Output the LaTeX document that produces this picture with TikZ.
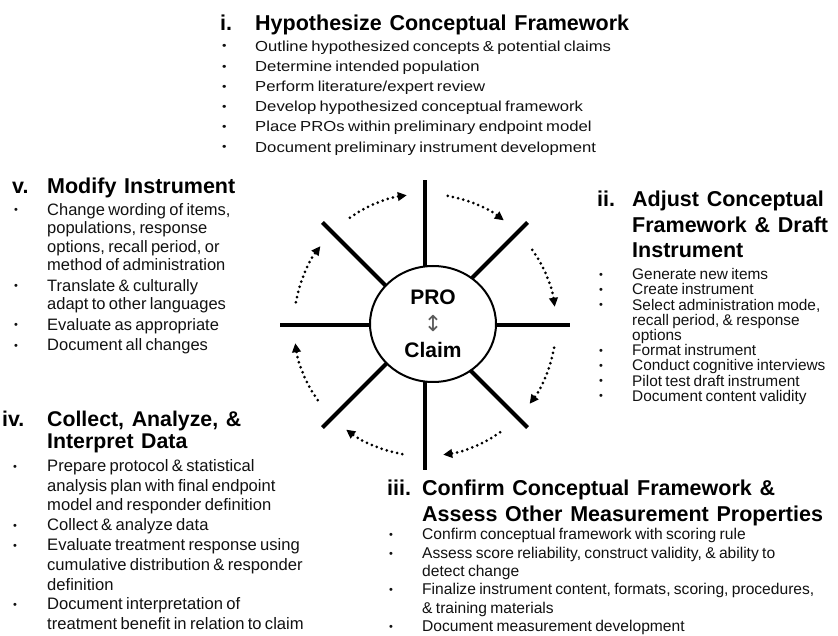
\documentclass[tikz,border=0pt]{standalone}
\usepackage{fontspec}
\setmainfont{Liberation Sans}
\newfontfamily\arrowfont{DejaVu Sans}
\usepackage{xcolor}
\usepackage{tikz}
\usetikzlibrary{positioning,arrows.meta,shapes.geometric}
\definecolor{ink}{HTML}{111111}
\definecolor{tick}{HTML}{5A5A5A}
\newlength{\labw}
\setlength{\labw}{35pt}
\newcommand{\phdot}{\hspace*{2pt}\raisebox{1.3pt}{\fontsize{11}{11}\selectfont\textbullet}}
\newcommand{\phhead}[2]{\noindent{\bfseries\spaceskip=.36em plus .1em\color{black}\hangindent=\labw\hangafter=1\makebox[\labw][l]{#1}#2\par}}
\newcommand{\phitem}[1]{\noindent\hangindent=\labw\hangafter=1\makebox[\labw][l]{\phdot}#1\par}
\tikzset{
  phase/.style={anchor=base west,inner sep=0pt,text=ink,
    execute at begin node={\lineskiplimit=-20pt\parskip=0pt}},
  spoke/.style={line width=4pt},
  turn/.style={line width=3pt,dash pattern=on 0pt off 5.3pt,line cap=round,
    -{Triangle[length=9pt,width=8.5pt]}}
}

\begin{document}
\begin{tikzpicture}[x=1pt,y=1pt]
      \useasboundingbox (0,0) rectangle (838,635);
      \coordinate (axle) at (425,310);
      \foreach \a in {0,45,...,315}
        \draw[spoke] (axle) -- ++(\a:145);
      \foreach \a in {0,45,...,315}
        \draw[turn] (axle) ++(\a+35:131) arc[start angle=\a+35,end angle=\a+8,radius=131];
      \node[ellipse,draw,line width=2pt,fill=white,minimum width=126pt,minimum height=116pt,inner sep=0pt,
        align=center,font=\bfseries\fontsize{21}{26.5}\selectfont] (hub) at (433,311)
        {PRO\\{\arrowfont\mdseries\color{tick}\fontsize{22}{22}\selectfont ↕}\\Claim};
      \node[phase,text width=430pt] (hypo) at (220,604) {%
        \fontsize{21.5}{25}\selectfont
        \phhead{i.}{Hypothesize Conceptual Framework}
        \fontsize{14.5}{20.2}\selectfont\addfontfeature{FakeStretch=1.15}
        \phitem{Outline hypothesized concepts \& potential claims}
        \phitem{Determine intended population}
        \phitem{Perform literature/expert review}
        \phitem{Develop hypothesized conceptual framework}
        \phitem{Place PROs within preliminary endpoint model}
        \phitem{Document preliminary instrument development}
      };
      \node[phase,text width=250pt] (adjust) at (597,428.3) {%
        \fontsize{21.5}{25.5}\selectfont
        \phhead{ii.}{Adjust Conceptual\newline Framework \& Draft\newline Instrument}
        \fontsize{15.4}{15.2}\selectfont\vskip6.8pt
        \phitem{Generate new items}
        \phitem{Create instrument}
        \phitem{Select administration mode,\newline recall period, \& response\newline options}
        \phitem{Format instrument}
        \phitem{Conduct cognitive interviews}
        \phitem{Pilot test draft instrument}
        \phitem{Document content validity}
      };
      \node[phase,text width=460pt] (confirm) at (387,139.3) {%
        \fontsize{21.5}{26}\selectfont
        \phhead{iii.}{Confirm Conceptual Framework \&\newline Assess Other Measurement Properties}
        \fontsize{15.6}{18.3}\selectfont
        \phitem{Confirm conceptual framework with scoring rule}
        \phitem{Assess score reliability, construct validity, \& ability to\newline detect change}
        \phitem{Finalize instrument content, formats, scoring, procedures,\newline \& training materials}
        \phitem{Document measurement development}
      };
      \node[phase,text width=400pt] (collect) at (11,208.3) {%
        \setlength{\labw}{36pt}%
        \fontsize{21.3}{21.7}\selectfont
        \phhead{\hspace*{-9pt}iv.}{Collect, Analyze, \&\newline Interpret Data}
        \fontsize{16.6}{19.8}\selectfont\vskip3.2pt
        \phitem{Prepare protocol \& statistical\newline analysis plan with final endpoint\newline model and responder definition}
        \phitem{Collect \& analyze data}
        \phitem{Evaluate treatment response using\newline cumulative distribution \& responder\newline definition}
        \phitem{Document interpretation of\newline treatment benefit in relation to claim}
      };
      \node[phase,text width=260pt] (modify) at (12,441.7) {%
        \fontsize{21.5}{22}\selectfont
        \phhead{v.}{Modify Instrument}
        \fontsize{16.5}{18.5}\selectfont\parskip=2pt\vskip1.5pt
        \phitem{Change wording of items,\newline populations, response\newline options, recall period, or\newline method of administration}
        \phitem{Translate \& culturally\newline adapt to other languages}
        \phitem{Evaluate as appropriate}
        \phitem{Document all changes}
      };
\end{tikzpicture}
\end{document}
